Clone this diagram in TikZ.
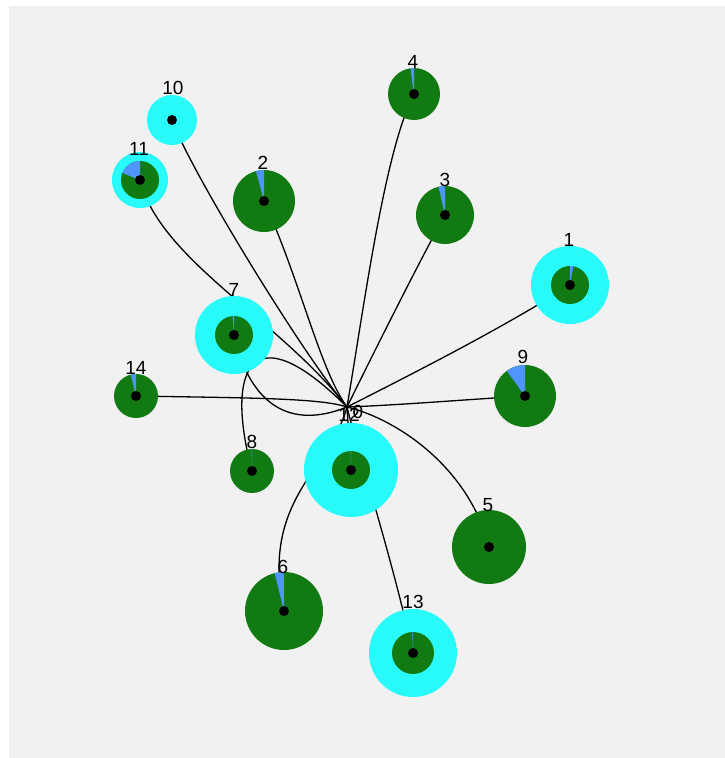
\documentclass[tikz,border=0pt]{standalone}
\usepackage{fontspec}
\setmainfont{Liberation Sans}
\pgfdeclarelayer{back}
\pgfdeclarelayer{edges}
\pgfsetlayers{back,edges,main}
\definecolor{bggray}{RGB}{241,241,241}
\definecolor{ringcyan}{RGB}{40,250,250}
\definecolor{diskgreen}{RGB}{18,122,18}
\definecolor{wedgeblue}{RGB}{80,150,250}
\tikzset{
  x=1pt,y=1pt,
  ring/.style={circle,fill=ringcyan,inner sep=0,minimum size=#1},
  disk/.style={circle,fill=diskgreen,inner sep=0,minimum size=#1},
  wedge/.style={fill=wedgeblue},
  hubdot/.style={fill=black},
  lbl/.style={inner sep=0,font=\fontsize{19}{19}\selectfont,text=black},
  link/.style={draw=black,line width=1.3pt}
}
\newcommand\mywedge[4]{\fill[wedge] (#1.center) -- ++(90:#2) arc[start angle=90,end angle=#3,radius=#2] -- cycle; \fill[hubdot] (#1.center) circle (#4);}
\begin{document}
\begin{tikzpicture}
\begin{pgfonlayer}{back}
\fill[white] (0,0) rectangle (725,-758);
\fill[bggray] (9,-6) rectangle (725,-758);
\end{pgfonlayer}
\useasboundingbox (0,0) rectangle (725,-758);

% hub
\coordinate (n0) at (347,-407);

% nodes
\node[ring=50] (n10) at (172,-120) {};
\node[ring=56] (n11) at (140,-180) {};
\node[disk=38] (g11) at (140,-180) {};
\node[disk=62] (n2) at (264,-201) {};
\node[disk=52] (n4) at (414,-94) {};
\node[disk=58] (n3) at (445,-215) {};
\node[ring=78] (n1) at (570,-285) {};
\node[disk=38] (g1) at (570,-285) {};
\node[disk=62] (n9) at (525,-396) {};
\node[disk=44] (n14) at (136,-396) {};
\node[ring=78] (n7) at (234,-335) {};
\node[disk=38] (g7) at (234,-335) {};
\node[disk=44] (n8) at (252,-471) {};
\node[ring=94] (n12) at (351,-470) {};
\node[disk=38] (g12) at (351,-470) {};
\node[disk=74] (n5) at (489,-547) {};
\node[disk=78] (n6) at (284,-611) {};
\node[ring=88] (n13) at (413,-653) {};
\node[disk=42] (g13) at (413,-653) {};

% wedges and centre dots
\fill[hubdot] (n10.center) circle (5);
\mywedge{g11}{19}{158}{5}
\mywedge{n2}{31}{105}{5}
\mywedge{n4}{26}{98}{5}
\mywedge{n3}{29}{103}{5}
\mywedge{g1}{19}{80}{5}
\mywedge{n9}{31}{126}{5}
\mywedge{n14}{22}{104}{5}
\mywedge{g7}{19}{94}{5}
\mywedge{n8}{22}{91}{5}
\mywedge{g12}{19}{91}{5}
\fill[hubdot] (n5.center) circle (5);
\mywedge{n6}{39}{104}{5}
\mywedge{g13}{21}{92}{5}

% labels
\node[lbl] (l10) at (173,-88) {10};
\node[lbl] (l11) at (139,-149) {11};
\node[lbl] (l2) at (263,-163) {2};
\node[lbl] (l4) at (413,-62) {4};
\node[lbl] (l3) at (445,-180) {3};
\node[lbl] (l1) at (569,-240) {1};
\node[lbl] (l9) at (523,-357) {9};
\node[lbl] (l14) at (136,-368) {14};
\node[lbl] (l7) at (234,-290) {7};
\node[lbl] (l8) at (252,-442) {8};
\node[lbl] (l12) at (349,-415) {12};
\node[lbl] (l0) at (358,-412) {0};
\node[lbl] (l5) at (488,-505) {5};
\node[lbl] (l6) at (283,-567) {6};
\node[lbl] (l13) at (413,-602) {13};

% links
\begin{pgfonlayer}{edges}
\draw[link] (n10.center) .. controls (190,-170) and (300,-350) .. (n0);
\draw[link] (n11.center) .. controls (160,-260) and (280,-320) .. (n0);
\draw[link] (n7.center) .. controls (250,-405) and (290,-430) .. (n0);
\draw[link] (n8.center) .. controls (225,-370) and (250,-310) .. (n0);
\draw[link] (n14.center) .. controls (250,-398) and (320,-398) .. (n0);
\draw[link] (n2.center) .. controls (300,-280) and (320,-370) .. (n0);
\draw[link] (n4.center) .. controls (385,-150) and (365,-300) .. (n0);
\draw[link] (n3.center) .. controls (420,-260) and (370,-360) .. (n0);
\draw[link] (n1.center) .. controls (500,-330) and (400,-380) .. (n0);
\draw[link] (n9.center) .. controls (460,-400) and (400,-405) .. (n0);
\draw[link] (n5.center) .. controls (470,-470) and (400,-420) .. (n0);
\draw[link] (n12.center) -- (n0);
\draw[link] (n6.center) .. controls (260,-500) and (330,-470) .. (n0);
\draw[link] (n13.center) .. controls (390,-550) and (360,-460) .. (n0);
\end{pgfonlayer}
\end{tikzpicture}
\end{document}
